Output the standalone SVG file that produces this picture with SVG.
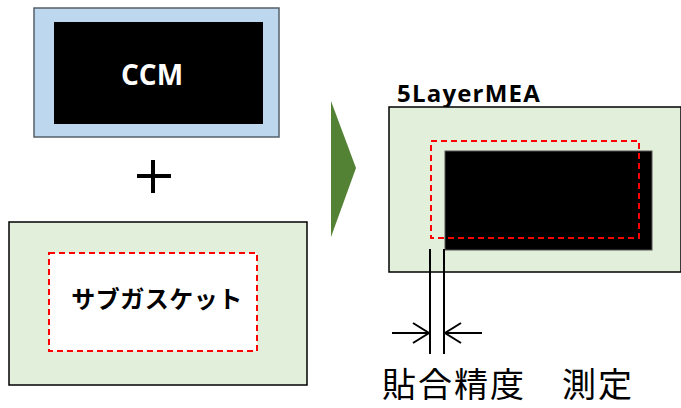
<svg xmlns="http://www.w3.org/2000/svg" width="681" height="408" viewBox="0 0 681 408">
<style>
.lbl{font-family:"Open Sans","Noto Sans CJK JP",sans-serif;font-weight:bold}
.jp{font-family:"Noto Sans CJK JP",sans-serif}
.green{fill:#E2EFDA;stroke:#000;stroke-width:1.5}
.dash{fill:none;stroke:#FF0000;stroke-width:2;stroke-dasharray:6 4}
.ln{stroke:#000;stroke-width:2;fill:none}
</style>
<rect width="681" height="408" fill="#fff"/>
<g id="ccm">
<rect x="34" y="8" width="245" height="129" fill="#BDD7EE" stroke="#56606a" stroke-width="1.5"/>
<rect x="54" y="22" width="209" height="102" fill="#000"/>
<text x="152" y="85" class="lbl" font-size="28" fill="#fff" text-anchor="middle">CCM</text>
</g>
<g id="plus">
<line x1="153" y1="160" x2="153" y2="193" stroke="#000" stroke-width="4"/>
<line x1="137" y1="176" x2="171" y2="176" stroke="#000" stroke-width="4"/>
</g>
<g id="subgasket">
<rect x="9" y="222" width="298" height="163" class="green"/>
<rect x="49" y="253" width="208" height="98" fill="#fff" stroke="#FF0000" stroke-width="2" stroke-dasharray="6 4"/>
<text x="157" y="308" class="lbl jp" font-size="24" fill="#000" text-anchor="middle" font-weight="bold" letter-spacing="0.5">サブガスケット</text>
</g>
<g id="arrow">
<polygon points="331,101 356,168 331,237" fill="#548235"/>
</g>
<g id="mea">
<text x="397" y="102" class="lbl" font-size="24" fill="#000" letter-spacing="1.2">5LayerMEA</text>
<rect x="389" y="107" width="292" height="165" class="green"/>
<rect x="445" y="151" width="207" height="99" fill="#000" stroke="#555" stroke-width="1"/>
<rect x="431" y="141" width="208" height="97" class="dash"/>
</g>
<g id="connectors">
<line x1="430" y1="249" x2="430" y2="354" class="ln"/>
<line x1="444" y1="249" x2="444" y2="354" class="ln"/>
<line x1="392" y1="333" x2="429" y2="333" class="ln"/>
<polyline points="413,323 429,333 413,343" class="ln"/>
<line x1="482" y1="333" x2="445" y2="333" class="ln"/>
<polyline points="461,323 445,333 461,343" class="ln"/>
</g>
<g id="caption">
<text x="382" y="397" class="jp" font-size="34" fill="#000" letter-spacing="2">貼合精度　測定</text>
</g>
</svg>
